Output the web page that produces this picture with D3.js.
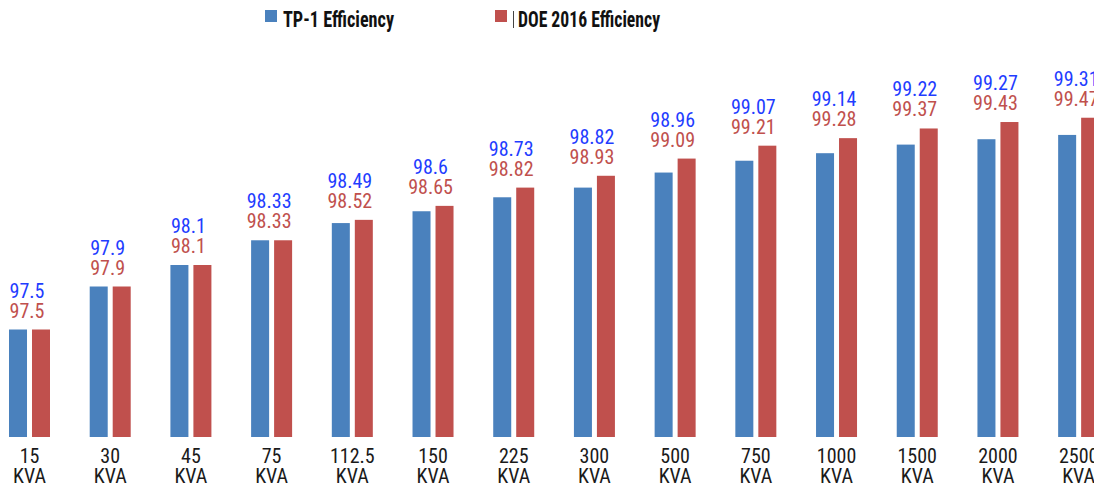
<!DOCTYPE html>
<html>
<head>
<meta charset="utf-8">
<script src="https://cdn.jsdelivr.net/npm/d3@7"></script>
<style>
  body { margin: 0; background: #fff; }
  svg { display: block; }
  text { font-family: "Liberation Sans Narrow", "Arial Narrow", "Roboto Condensed", sans-serif; }
</style>
</head>
<body>
<div id="chart"></div>
<script>
// Kategorien und Werte
const categories = ["15", "30", "45", "75", "112.5", "150", "225", "300", "500", "750", "1000", "1500", "2000", "2500"];
const tp1 = [97.5, 97.9, 98.1, 98.33, 98.49, 98.6, 98.73, 98.82, 98.96, 99.07, 99.14, 99.22, 99.27, 99.31];
const doe2016 = [97.5, 97.9, 98.1, 98.33, 98.52, 98.65, 98.82, 98.93, 99.09, 99.21, 99.28, 99.37, 99.43, 99.47];
const seriesNames = ["TP-1 Efficiency", "DOE 2016 Efficiency"];

const width = 1094, height = 487;
const barColors = ["#4a81bd", "#c0504d"];
const labelColors = ["#1f3dff", "#c0504d"];

const svg = d3.select("#chart").append("svg")
    .attr("width", width)
    .attr("height", height);

// Skalen
const x = d3.scaleBand()
    .domain(categories)
    .range([-10.85, 1119])
    .paddingInner(0.492)
    .paddingOuter(0.246);

const xSeries = d3.scaleBand()
    .domain([0, 1])
    .range([0, x.bandwidth()])
    .paddingInner(0.217);

const y = d3.scaleLinear()
    .domain([96.5, 100])
    .range([437, 60.75]);

const rows = categories.map((c, i) => ({ cat: c, values: [tp1[i], doe2016[i]] }));

const groups = svg.append("g").selectAll("g")
    .data(rows)
    .join("g")
    .attr("transform", d => `translate(${x(d.cat)},0)`);

// Balken
groups.selectAll("rect")
    .data(d => d.values.map((v, k) => ({ k, v })))
    .join("rect")
    .attr("x", d => xSeries(d.k))
    .attr("width", xSeries.bandwidth())
    .attr("y", d => y(d.v))
    .attr("height", d => y.range()[0] - y(d.v))
    .attr("fill", d => barColors[d.k]);

// Wertebeschriftung über der Gruppe (leicht nach links versetzt wie im Original)
groups.each(function(d) {
    const g = d3.select(this);
    const top = y(d3.max(d.values));
    const cx = x.bandwidth() / 2 - 2.5;
    g.append("text")
        .attr("x", cx).attr("y", top - 32)
        .attr("text-anchor", "middle")
        .attr("font-size", 20)
        .attr("fill", labelColors[0])
        .text(d.values[0]);
    g.append("text")
        .attr("x", cx).attr("y", top - 12)
        .attr("text-anchor", "middle")
        .attr("font-size", 20)
        .attr("fill", labelColors[1])
        .text(d.values[1]);
});

// Kategorieachse
const xAxis = svg.append("g")
    .attr("transform", `translate(0,${y.range()[0]})`)
    .call(d3.axisBottom(x).tickSize(0).tickFormat(""));
xAxis.select(".domain").remove();
xAxis.selectAll(".tick").each(function(c) {
    const t = d3.select(this).append("text")
        .attr("text-anchor", "middle")
        .attr("font-size", 20)
        .attr("fill", "#1a1a1a");
    t.append("tspan").attr("x", 0).attr("y", 26).text(c);
    t.append("tspan").attr("x", 0).attr("y", 46).text("KVA");
});

// Legende
const legendX = [265, 495];
const legendTextX = [283, 518];
const legendTextW = [111, 142];
const legend = svg.append("g");
seriesNames.forEach((name, k) => {
    legend.append("rect")
        .attr("x", legendX[k]).attr("y", 10)
        .attr("width", 12).attr("height", 12)
        .attr("fill", barColors[k]);
    legend.append("text")
        .attr("x", legendTextX[k]).attr("y", 27)
        .attr("font-size", 22)
        .attr("font-weight", "bold")
        .attr("fill", "#111")
        .attr("textLength", legendTextW[k])
        .attr("lengthAdjust", "spacingAndGlyphs")
        .text(name);
});
legend.append("line")
    .attr("x1", 513.5).attr("x2", 513.5)
    .attr("y1", 11).attr("y2", 28)
    .attr("stroke", "#444").attr("stroke-width", 1);
</script>
</body>
</html>
